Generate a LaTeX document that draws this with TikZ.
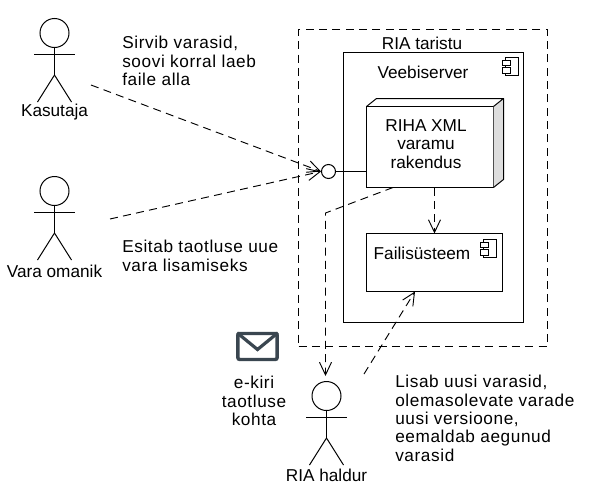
\documentclass[tikz,border=0pt]{standalone}
\usepackage{fontspec}
\setmainfont{Liberation Sans}
\newfontfamily\widefont[LetterSpace=3.5]{Liberation Sans}
\usetikzlibrary{arrows.meta, calc, positioning}
\definecolor{mailgray}{HTML}{3A4650}
\definecolor{sidegray}{HTML}{DDDDDD}
\newcommand{\actorfig}[5]{% name, x, y, label, label shift
  \node[headcirc] (#1) at (#2,#3) {};
  \coordinate (#1hip) at ($(#1.south)+(0,27)$);
  \draw[thin line] (#1.south) -- (#1hip);
  \draw[thin line] ($(#1.south)+(-20.5,6)$) -- ($(#1.south)+(20.5,6)$);
  \draw[thin line] ($(#1hip)+(-17,27)$) -- (#1hip) -- ($(#1hip)+(17,27)$);
  \node[txt] (#1lbl) at (#2,#3+#5) {#4};
}
\newcommand{\compicon}[2]{% x, y
  \draw[thin line, fill=white] (#1,#2) rectangle ++(13,18);
  \draw[thin line, fill=white] (#1-3,#2+3) rectangle ++(8,5);
  \draw[thin line, fill=white] (#1-3,#2+10) rectangle ++(8,6);
}

\begin{document}
\begin{tikzpicture}[
  x=0.75pt, y=-0.75pt,
  thin line/.style = {draw=black, line width=0.75pt},
  txt/.style       = {font=\fontsize{12.9}{13.8}\selectfont, align=center, inner sep=0pt},
  wtxt/.style      = {txt, font=\fontsize{12.9}{13.8}\selectfont\widefont},
  ltxt/.style      = {wtxt, align=left, anchor=north west},
  headcirc/.style  = {circle, draw=black, line width=0.75pt, minimum size=21.75pt, inner sep=0pt},
  box/.style       = {draw=black, line width=0.75pt, anchor=north west, inner sep=0pt, outer sep=0pt},
  lollipop/.style  = {circle, draw=black, fill=white, line width=0.75pt, minimum size=10.5pt, inner sep=0pt},
  frame/.style     = {box, dash pattern=on 6pt off 4pt},
  flow/.style      = {-{Straight Barb[length=9.5pt, width=9pt]}, draw=black, line width=0.7pt,
                      dash pattern=on 6pt off 4pt},
]
  \useasboundingbox (0,0) rectangle (593,500);

  % ---------------------------------------------------------------- actors
  \actorfig{kasutaja}{54.5}{33}{Kasutaja}{79}
  \actorfig{omanik}{54.5}{191}{Vara omanik}{80}
  \actorfig{haldur}{326.5}{396}{RIA haldur}{79}

  % ---------------------------------------------------------------- containers
  \node[frame, minimum width=186.75pt, minimum height=237.75pt] (taristu) at (298.5,29.5) {};
  \node[txt] (taristulbl) at (422,43) {RIA taristu};
  \node[box, minimum width=135pt, minimum height=202.5pt] (server) at (343.5,52.5) {};
  \node[txt] (serverlbl) at (423,72) {Veebiserver};
  \compicon{505.5}{57.5}

  % ---------------------------------------------------------------- application
  \node[box, minimum width=95.25pt, minimum height=60.75pt] (rakendus) at (366.5,106.5) {};
  \fill[sidegray] (rakendus.north east) -- ++(10,-8) -- ++(0,81) -- (rakendus.south east) -- cycle;
  \draw[thin line, line join=round] (rakendus.north west) -- ++(10,-8) -- ++(127,0) -- ++(0,81)
        -- (rakendus.south east) (rakendus.north east) -- ++(10,-8);
  \node[txt] (rakenduslbl) at (426,144) {RIHA XML\\varamu\\rakendus};

  \node[box, minimum width=102pt, minimum height=43.5pt] (failid) at (366.5,233.5) {};
  \node[txt] (failidlbl) at (422,253) {Failisüsteem};
  \compicon{483.5}{239.5}

  % ---------------------------------------------------------------- interface
  \node[lollipop] (liides) at (328.5,171.5) {};
  \draw[thin line] (liides.east) -- (liides.east -| rakendus.west);

  % ---------------------------------------------------------------- linkage
  \coordinate (kasutajaout) at (91,85);
  \coordinate (omanikout) at (110,219);
  \coordinate (halduriin) at (325.5,376);
  \coordinate (haldurout) at (364,374);
  \coordinate (murre) at (325.5,213);
  \draw[flow] (kasutajaout) -- (liides.west);
  \draw[flow] (omanikout) -- (liides.west);
  \draw[flow] (rakendus.south -| 434.5,0) -- (failid.north -| 434.5,0);
  \draw[flow] (393,187 |- rakendus.south) -- (murre) -- (halduriin);
  \draw[flow] (haldurout) -- (415,291 |- failid.south);

  % ---------------------------------------------------------------- texts
  \node[ltxt] (sirvib) at (122,36) {Sirvib varasid,\\soovi korral laeb\\faile alla};
  \node[ltxt] (esitab) at (122,240) {Esitab taotluse uue\\vara lisamiseks};
  \node[ltxt] (lisab) at (395,375) {Lisab uusi varasid,\\olemasolevate varade\\uusi versioone,\\eemaldab aegunud\\varasid};
  \node[wtxt] (kiri) at (254,401) {e-kiri\\taotluse\\kohta};

  % ---------------------------------------------------------------- mail icon
  \node[draw=mailgray, fill=white, line width=2.6pt, rounded corners=1.5pt,
        minimum width=29.5pt, minimum height=19.5pt, inner sep=0pt] (mail) at (257.5,346.5) {};
  \draw[mailgray, line width=2.4pt] ($(mail.north west)+(1,1)$) -- ($(mail.center)+(0,3)$) -- ($(mail.north east)+(-1,1)$);
\end{tikzpicture}
\end{document}
